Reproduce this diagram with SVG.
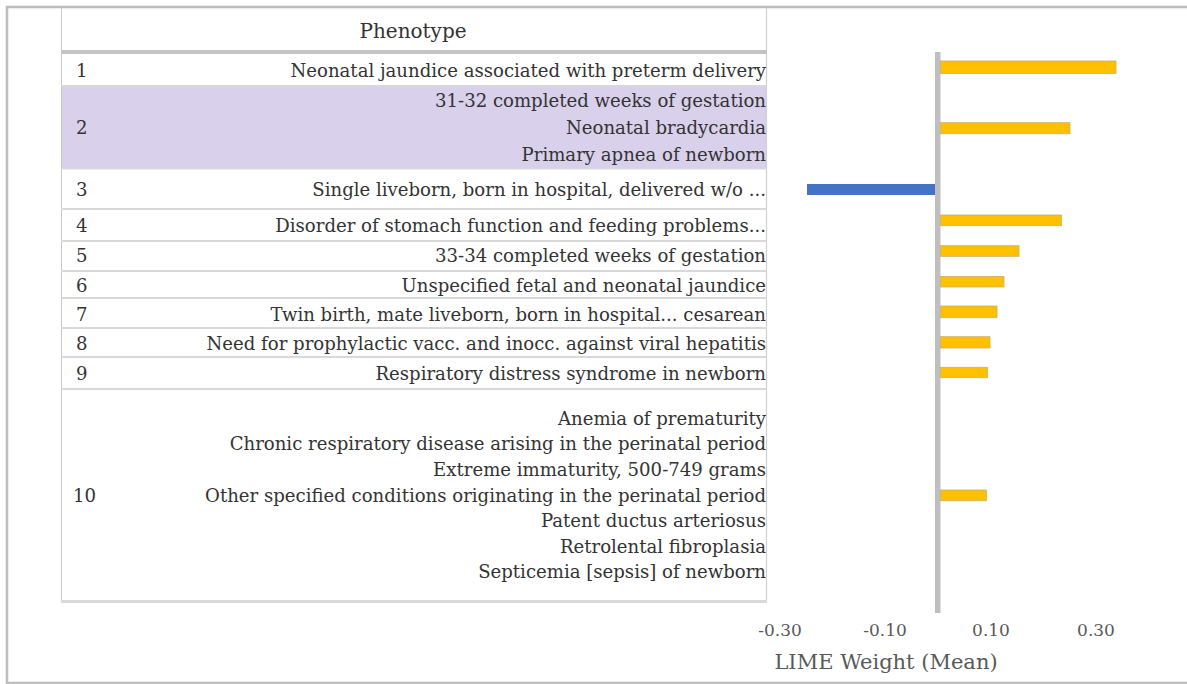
<svg xmlns="http://www.w3.org/2000/svg" width="1187" height="684" viewBox="0 0 1187 684">
<style>
.t{font-family:"DejaVu Serif","Liberation Serif",serif;font-size:18.1px;fill:#333}
.r{text-anchor:end}
.sep{fill:#d9d9d9}
.pos{fill:#FFC000;stroke:#c8b070;stroke-width:0.8}
.neg{fill:#4472C4}
.ax{font-family:"DejaVu Serif","Liberation Serif",serif;font-size:17px;fill:#595959;text-anchor:middle}
</style>
<rect width="1187" height="684" fill="#fff"/>
<g id="frame" fill="none" stroke="#bdbdbd" stroke-width="2.5">
<path d="M1187 7 H7 V683 H1187"/>
</g>
<g id="table">
<rect x="61" y="86" width="706" height="82" fill="#d9d0ec"/>
<line x1="61.5" y1="8" x2="61.5" y2="602" stroke="#c8c8c8" stroke-width="1"/>
<line x1="766.5" y1="8" x2="766.5" y2="602" stroke="#d0d0d0" stroke-width="1.2"/>
<rect x="61" y="50" width="706" height="4" fill="#c4c4c4"/>
<rect x="61" y="85" width="706" height="1.5" class="sep"/>
<rect x="61" y="168" width="706" height="1.5" class="sep"/>
<rect x="61" y="208" width="706" height="2" class="sep"/>
<rect x="61" y="240" width="706" height="2" class="sep"/>
<rect x="61" y="270" width="706" height="2" class="sep"/>
<rect x="61" y="297" width="706" height="2" class="sep"/>
<rect x="61" y="327" width="706" height="2" class="sep"/>
<rect x="61" y="356" width="706" height="2" class="sep"/>
<rect x="61" y="388" width="706" height="2" class="sep"/>
<rect x="61" y="600" width="706" height="3" class="sep"/>
<text class="t" x="413" y="38" text-anchor="middle" style="font-size:20px">Phenotype</text>
</g>
<g id="row1"><text class="t" x="76" y="77">1</text><text class="t r" x="766" y="77">Neonatal jaundice associated with preterm delivery</text></g>
<g id="row2"><text class="t" x="76" y="134">2</text>
<text class="t r" x="766" y="107">31-32 completed weeks of gestation</text>
<text class="t r" x="766" y="134">Neonatal bradycardia</text>
<text class="t r" x="766" y="161">Primary apnea of newborn</text></g>
<g id="row3"><text class="t" x="76" y="196">3</text><text class="t r" x="766" y="196">Single liveborn, born in hospital, delivered w/o ...</text></g>
<g id="row4"><text class="t" x="76" y="232">4</text><text class="t r" x="766" y="232">Disorder of stomach function and feeding problems...</text></g>
<g id="row5"><text class="t" x="76" y="262">5</text><text class="t r" x="766" y="262">33-34 completed weeks of gestation</text></g>
<g id="row6"><text class="t" x="76" y="292">6</text><text class="t r" x="766" y="292">Unspecified fetal and neonatal jaundice</text></g>
<g id="row7"><text class="t" x="76" y="321">7</text><text class="t r" x="766" y="321">Twin birth, mate liveborn, born in hospital... cesarean</text></g>
<g id="row8"><text class="t" x="76" y="350">8</text><text class="t r" x="766" y="350">Need for prophylactic vacc. and inocc. against viral hepatitis</text></g>
<g id="row9"><text class="t" x="76" y="380">9</text><text class="t r" x="766" y="380">Respiratory distress syndrome in newborn</text></g>
<g id="row10"><text class="t" x="73" y="502">10</text>
<text class="t r" x="766" y="425">Anemia of prematurity</text>
<text class="t r" x="766" y="450">Chronic respiratory disease arising in the perinatal period</text>
<text class="t r" x="766" y="476">Extreme immaturity, 500-749 grams</text>
<text class="t r" x="766" y="502">Other specified conditions originating in the perinatal period</text>
<text class="t r" x="766" y="527">Patent ductus arteriosus</text>
<text class="t r" x="766" y="553">Retrolental fibroplasia</text>
<text class="t r" x="766" y="578">Septicemia [sepsis] of newborn</text></g>
<g id="chart">
<rect x="935" y="52" width="5.5" height="561" fill="#bfbfbf"/>
<rect class="pos" x="940.5" y="61" width="175.5" height="12.5"/>
<rect class="pos" x="940.5" y="122.7" width="129.5" height="11"/>
<rect class="neg" x="807" y="184" width="128" height="11"/>
<rect class="pos" x="940.5" y="215" width="121" height="10.7"/>
<rect class="pos" x="940.5" y="245.7" width="78.5" height="10.6"/>
<rect class="pos" x="940.5" y="276.5" width="63.5" height="10.5"/>
<rect class="pos" x="940.5" y="306" width="56.5" height="11.7"/>
<rect class="pos" x="940.5" y="336.7" width="49.5" height="11.3"/>
<rect class="pos" x="940.5" y="367.3" width="47" height="10.4"/>
<rect class="pos" x="940.5" y="490" width="46" height="10.7"/>
<text class="ax" x="780" y="636">-0.30</text>
<text class="ax" x="885" y="636">-0.10</text>
<text class="ax" x="991" y="636">0.10</text>
<text class="ax" x="1096" y="636">0.30</text>
<text class="ax" x="886" y="669" style="font-size:21px">LIME Weight (Mean)</text>
</g>
</svg>
